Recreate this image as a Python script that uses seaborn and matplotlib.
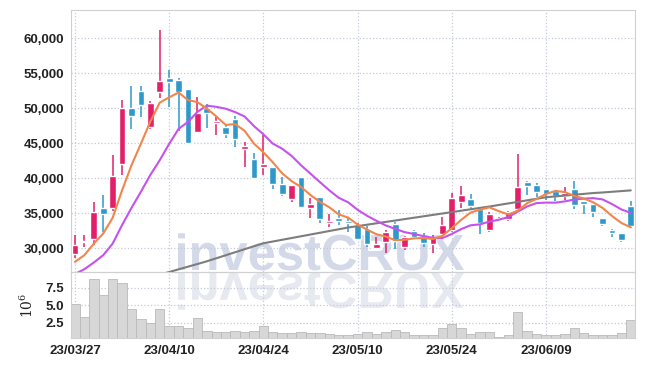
import numpy as np
import pandas as pd
import matplotlib
matplotlib.use('Agg')
import matplotlib.pyplot as plt
from matplotlib import font_manager
from matplotlib.textpath import TextPath
from matplotlib.patches import PathPatch
from matplotlib.font_manager import FontProperties
from matplotlib.transforms import Affine2D
from matplotlib.ticker import FuncFormatter
import seaborn as sns

# daily candles, 23/03/27 .. 23/06/22 (60 trading days)
opens = [29200, 30850, 31250, 35700, 35750, 41950, 50000, 52500, 47350, 52350,
         54300, 54000, 52700, 46600, 50050, 47800, 47350, 48400, 44100, 42700,
         41600, 41600, 39150, 36950, 40150, 35800, 37250, 33550, 34300, 33900,
         33300, 32800, 30050, 30900, 33400, 30200, 32450, 31800, 30550, 32000,
         32550, 36600, 36950, 35650, 32650, 34100, 34200, 35550, 39450, 39000,
         38400, 38200, 37450, 38400, 36700, 36250, 34250, 32650, 32100, 36000]
highs = [31950, 31950, 36600, 37650, 43300, 51100, 53100, 53100, 51050, 61150,
         55400, 54250, 52750, 51650, 50650, 48750, 47650, 48800, 45200, 43550,
         46150, 41650, 40200, 39050, 40200, 37100, 37300, 34950, 35400, 34450,
         33550, 33150, 31600, 32550, 33750, 31750, 32650, 32100, 31850, 34450,
         37900, 38850, 37800, 35700, 35100, 34500, 35250, 43400, 39600, 39350,
         38450, 38250, 38750, 39600, 36800, 36300, 34300, 32700, 32150, 36750]
lows = [28550, 30200, 30500, 32350, 35350, 40450, 47000, 48700, 47000, 51450,
        50200, 46750, 45000, 46550, 47100, 46150, 45750, 44450, 41600, 39950,
        40450, 38400, 37400, 36550, 35800, 34250, 33600, 33050, 33300, 32350,
        31150, 30100, 30000, 29250, 29950, 29700, 31250, 30100, 29250, 31850,
        32350, 35700, 35450, 32000, 32350, 34000, 33850, 35500, 37650, 37350,
        36850, 36700, 36850, 35650, 34950, 34400, 33150, 31600, 30900, 32950]
closes = [30400, 30950, 35100, 34900, 40300, 50000, 48900, 50450, 50700, 53850,
          53750, 52350, 45050, 49250, 49250, 48200, 46250, 45600, 44550, 40050,
          42000, 39100, 37700, 39000, 35850, 36300, 34200, 33850, 33900, 33600,
          31350, 30550, 30550, 32250, 31000, 31650, 31550, 30800, 31550, 33250,
          37100, 37550, 36000, 33550, 34950, 34350, 35200, 38700, 38900, 38050,
          37800, 37450, 37850, 36150, 36250, 35100, 33400, 32100, 31150, 33150]
# volume in millions
volumes = [5.2, 3.3, 8.8, 6.5, 8.8, 8.1, 4.4, 3.0, 2.4, 4.4,
           2.0, 2.0, 1.7, 3.1, 1.3, 1.1, 1.1, 1.3, 1.2, 1.3,
           2.0, 1.2, 1.0, 1.0, 1.1, 1.0, 1.0, 0.9, 0.7, 0.7,
           0.9, 1.1, 0.9, 1.1, 1.4, 1.1, 0.7, 0.7, 0.7, 1.8,
           2.3, 1.7, 0.9, 1.1, 1.1, 0.5, 0.7, 4.0, 1.3, 0.9,
           0.7, 0.7, 0.9, 1.7, 1.0, 0.7, 0.8, 0.8, 1.0, 2.9]
ma5 = [28050, 29000, 30650, 32100, 34330, 38250, 41840, 44910, 48070, 50780,
       51530, 52220, 51140, 50850, 49930, 48820, 47600, 47710, 46770, 44930,
       43690, 42260, 40680, 39570, 38730, 37590, 36610, 35840, 34820, 34370,
       33380, 32650, 31990, 31660, 31140, 31200, 31400, 31450, 31310, 31760,
       32850, 34050, 35090, 35490, 35830, 35280, 34810, 35350, 36420, 37040,
       37730, 38180, 38010, 37460, 37100, 36560, 35750, 34600, 33600, 32980]
ma10 = [26300, 27000, 27950, 29000, 30650, 33300, 35750, 38050, 40450, 42555,
        44890, 47030, 48025, 49460, 50355, 50175, 49910, 49425, 48810, 47430,
        46255, 44930, 44195, 43170, 41830, 40640, 39435, 38260, 37195, 36550,
        35485, 34630, 33915, 33240, 32755, 32290, 32025, 31720, 31485, 31450,
        32025, 32725, 33270, 33400, 33795, 34065, 34430, 35220, 35955, 36435,
        36505, 36495, 36680, 36940, 37070, 37145, 36965, 36305, 35530, 35040]
ma_long = [np.nan] * 9 + [
    26200, 26600, 26980, 27360, 27740, 28130, 28560, 28990, 29420, 29850,
    30280, 30700, 30950, 31200, 31450, 31700, 31950, 32200, 32450, 32700,
    32950, 33150, 33350, 33550, 33750, 33950, 34150, 34350, 34550, 34750,
    34950, 35150, 35350, 35550, 35750, 35950, 36170, 36390, 36610, 36830,
    37050, 37270, 37390, 37510, 37630, 37750, 37870, 37950, 38050, 38150, 38250]
tick_idx = [0, 10, 20, 30, 40, 50]
tick_labels = ['23/03/27', '23/04/10', '23/04/24', '23/05/10', '23/05/24', '23/06/09']

red = '#e31f69'
blue = '#2f98cb'
grid_c = '#c5cad9'
spine_c = '#d0d0d0'
label_c = '#222222'

sns.set_theme(style='white')
names = {f.name for f in font_manager.fontManager.ttflist}
narrow = 'Liberation Sans Narrow' in names
fam = [f for f in ['Liberation Sans Narrow', 'Liberation Sans', 'DejaVu Sans'] if f in names]
plt.rcParams['font.family'] = fam
plt.rcParams['mathtext.fontset'] = 'dejavuserif'
tick_size = 11 if narrow else 9.5

df = pd.DataFrame({'idx': np.arange(len(closes)), 'open': opens, 'high': highs,
                   'low': lows, 'close': closes, 'vol': volumes,
                   'ma5': ma5, 'ma10': ma10, 'ma_long': ma_long})

W, H = 645, 366
fig = plt.figure(figsize=(W / 100, H / 100), dpi=100)
fig.patch.set_facecolor('white')
ax = fig.add_axes([71 / W, 1 - 272 / H, 564 / W, 262 / H])
axv = fig.add_axes([71 / W, 1 - 338 / H, 564 / W, 66 / H], sharex=ax)

# watermark with reflection, drawn behind both panels
tp = TextPath((0, 0), 'investCRUX', size=1,
              prop=FontProperties(family='Liberation Sans', weight='bold'))
bb = tp.get_extents()
s = 286 / bb.width
fig.add_artist(PathPatch(tp, transform=Affine2D().scale(s, s).translate(178 - bb.x0 * s, H - 270),
                         facecolor='#d3d9e8', edgecolor='none', zorder=-1))
fig.add_artist(PathPatch(tp, transform=Affine2D().scale(s, -s).translate(178 - bb.x0 * s, H - 273),
                         facecolor='#e7e9f1', edgecolor='none', zorder=-1))

# candles
up = df['close'] >= df['open']
colors = np.where(up, red, blue)
bottoms = df[['open', 'close']].min(axis=1)
heights = (df['close'] - df['open']).abs().clip(lower=120)
ax.vlines(df['idx'], df['low'], df['high'], color=colors, lw=1.1, zorder=2)
ax.bar(df['idx'], heights, bottom=bottoms, width=0.72, color=colors, zorder=3)

# moving averages
sns.lineplot(data=df, x='idx', y='ma_long', ax=ax, color='#7d7d7d', lw=1.5, zorder=4)
sns.lineplot(data=df, x='idx', y='ma10', ax=ax, color='#c552ec', lw=1.5, zorder=5)
sns.lineplot(data=df, x='idx', y='ma5', ax=ax, color='#f0864c', lw=1.5, zorder=6)

# volume
sns.barplot(data=df, x='idx', y='vol', ax=axv, native_scale=True, width=1.0,
            color='#d7d7d7', edgecolor='#b9b9b9', linewidth=0.6, saturation=1, zorder=2)

for a in (ax, axv):
    a.set_facecolor('none')
    a.grid(True, ls=':', color=grid_c, lw=0.9)
    a.set_axisbelow(True)
    for sp in a.spines.values():
        sp.set_color(spine_c)
        sp.set_linewidth(0.8)
    a.tick_params(length=0, labelsize=tick_size, labelcolor=label_c, pad=5)
    for lab in a.get_yticklabels() + a.get_xticklabels():
        lab.set_fontweight('bold')
    a.set_xlabel('')
    a.set_ylabel('')

ax.set_xlim(-0.42, 59.45)
ax.set_xticks(tick_idx)
ax.set_xticklabels(tick_labels, fontweight='bold')
ax.tick_params(axis='x', labelbottom=False)
ax.set_ylim(26600, 64000)
ax.set_yticks(range(30000, 60001, 5000))
ax.yaxis.set_major_formatter(FuncFormatter(lambda v, p: f'{v:,.0f}'))
for lab in ax.get_yticklabels():
    lab.set_fontweight('bold')

axv.set_ylim(0.31, 9.74)
axv.set_yticks([2.5, 5.0, 7.5])
axv.set_yticklabels(['2.5', '5.0', '7.5'], fontweight='bold')
axv.set_ylabel(r'$10^{6}$', fontsize=10, color=label_c)
axv.yaxis.set_label_coords(-0.062, 0.5)
axv.tick_params(axis='x', pad=5)
for lab in axv.get_xticklabels():
    lab.set_fontweight('bold')

fig.savefig('out.png', dpi=100)
